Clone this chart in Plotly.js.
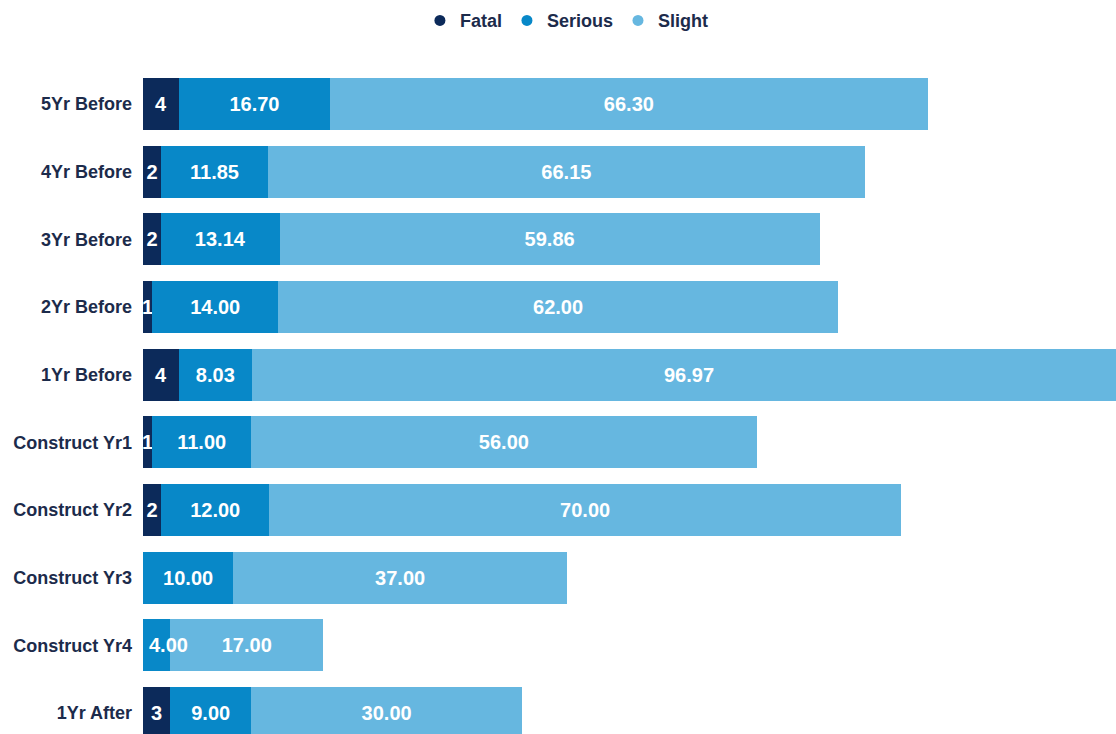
<!DOCTYPE html>
<html>
<head>
<meta charset="utf-8">
<script src="https://cdn.plot.ly/plotly-3.0.1.min.js"></script>
<style>html,body{margin:0;padding:0;background:#fff;}#chart{width:1116px;height:734px;}</style>
</head>
<body>
<div id="chart"></div>
<script>
const categories = ['5Yr Before','4Yr Before','3Yr Before','2Yr Before','1Yr Before','Construct Yr1','Construct Yr2','Construct Yr3','Construct Yr4','1Yr After'];
const fatal   = [4, 2, 2, 1, 4, 1, 2, 0, 0, 3];
const serious = [16.70, 11.85, 13.14, 14.00, 8.03, 11.00, 12.00, 10.00, 3.00, 9.00];
const slight  = [66.30, 66.15, 59.86, 62.00, 96.97, 56.00, 70.00, 37.00, 17.00, 30.00];
const fatalLabels   = ['4','2','2','1','4','1','2','','','3'];
const seriousLabels = ['16.70','11.85','13.14','14.00','8.03','11.00','12.00','10.00','4.00','9.00'];
const slightLabels  = ['66.30','66.15','59.86','62.00','96.97','56.00','70.00','37.00','17.00','30.00'];

const colors = {Fatal:'#0c2a5a', Serious:'#0888c8', Slight:'#66b7e0'};
const FONT = 'Liberation Sans, Arial, sans-serif';
const textFont = {family:FONT, size:20, color:'#ffffff', weight:'bold'};

// labels that are wider than their segment are drawn as left-anchored overlays
const overflowIdx = [8];
const seriousInBar = seriousLabels.map((t, i) => overflowIdx.includes(i) ? '' : t);

function barTrace(name, vals, labels){
  return {
    type:'bar', orientation:'h', name:name,
    y:categories, x:vals, text:labels,
    textposition:'inside', insidetextanchor:'middle', constraintext:'none', textangle:0,
    textfont:textFont,
    marker:{color:colors[name], line:{width:0}},
    showlegend:false, hoverinfo:'x+name'
  };
}
function legendTrace(name){
  return {type:'scatter', mode:'markers', name:name, x:[null], y:[null],
    marker:{symbol:'circle', size:11, color:colors[name]}, showlegend:true, hoverinfo:'skip'};
}

const data = [
  barTrace('Fatal', fatal, fatalLabels),
  barTrace('Serious', serious, seriousInBar),
  barTrace('Slight', slight, slightLabels),
  legendTrace('Fatal'), legendTrace('Serious'), legendTrace('Slight')
];

const annotations = overflowIdx.map(i => ({
  x: fatal[i], y: categories[i], xref:'x', yref:'y',
  text: seriousLabels[i], showarrow:false, xanchor:'left', yanchor:'middle', xshift:4,
  font:textFont
}));

const layout = {
  width:1116, height:734,
  margin:{l:143, r:0, t:70, b:0, pad:0},
  barmode:'stack', bargap:0.232,
  paper_bgcolor:'#ffffff', plot_bgcolor:'#ffffff',
  font:{family:FONT, color:'#1c2b4b'},
  xaxis:{range:[0, 107.84], showticklabels:false, showgrid:false, zeroline:false, showline:false, fixedrange:true},
  yaxis:{type:'category', categoryorder:'array', categoryarray:categories, range:[9.31, -0.5],
    showgrid:false, zeroline:false, showline:false, ticks:'', ticklabelstandoff:10,
    tickfont:{family:FONT, size:18, color:'#1c2b4b', weight:'bold'}},
  annotations: annotations,
  showlegend:true,
  legend:{orientation:'h', xref:'container', yref:'container', x:0.508, xanchor:'center', y:0.997, yanchor:'top',
    font:{family:FONT, size:18, color:'#1c2b4b', weight:'bold'}, itemwidth:30, traceorder:'normal',
    bgcolor:'rgba(0,0,0,0)'}
};

Plotly.newPlot('chart', data, layout, {displayModeBar:false, staticPlot:true});
</script>
</body>
</html>
